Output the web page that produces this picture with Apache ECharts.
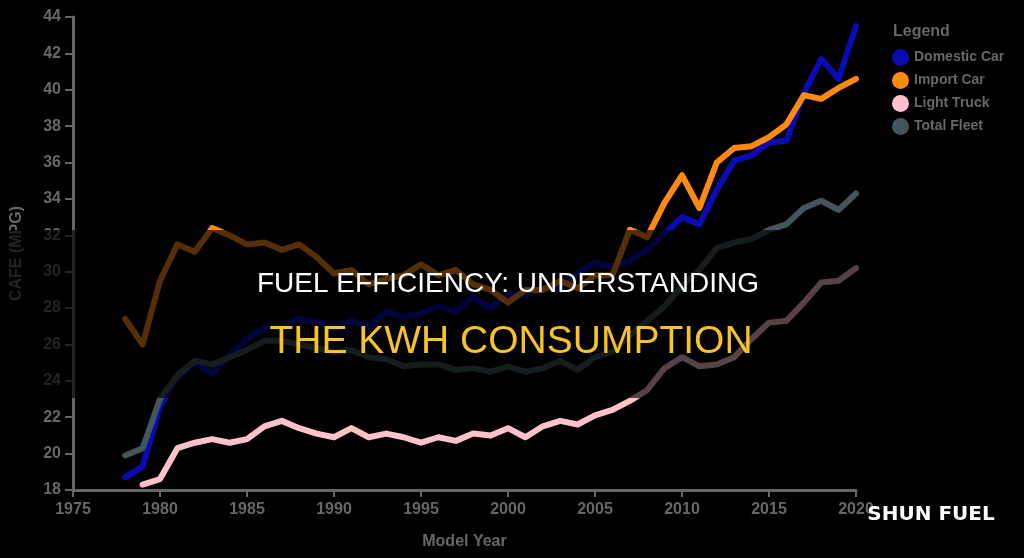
<!DOCTYPE html>
<html>
<head>
<meta charset="utf-8">
<script src="https://cdn.jsdelivr.net/npm/echarts@6/dist/echarts.min.js"></script>
<style>
  html, body { margin: 0; padding: 0; background: #000; }
  #main { width: 1024px; height: 558px; }
</style>
</head>
<body>
<div id="main"></div>
<script>
// model years shown on the chart
var years = [1978, 1979, 1980, 1981, 1982, 1983, 1984, 1985, 1986, 1987,
    1988, 1989, 1990, 1991, 1992, 1993, 1994, 1995, 1996, 1997,
    1998, 1999, 2000, 2001, 2002, 2003, 2004, 2005, 2006, 2007,
    2008, 2009, 2010, 2011, 2012, 2013, 2014, 2015, 2016, 2017,
    2018, 2019, 2020];

var domesticCar = [18.7, 19.3, 22.6, 24.2, 25.0, 24.4, 25.4, 26.3, 26.9, 27.0,
    27.4, 27.2, 26.9, 27.3, 27.0, 27.8, 27.5, 27.7, 28.1, 27.8,
    28.6, 28.0, 28.7, 28.7, 29.1, 29.1, 29.9, 30.5, 30.3, 30.6,
    31.2, 32.1, 33.0, 32.6, 34.5, 36.1, 36.4, 37.1, 37.2, 39.8,
    41.7, 40.6, 43.5];

var importCar = [27.4, 26.0, 29.5, 31.5, 31.1, 32.4, 32.0, 31.5, 31.6, 31.2,
    31.5, 30.8, 29.9, 30.1, 29.3, 29.6, 29.8, 30.4, 29.8, 30.1,
    29.3, 29.0, 28.3, 29.0, 29.0, 29.5, 29.1, 29.8, 29.8, 32.3,
    31.9, 33.8, 35.3, 33.5, 36.0, 36.8, 36.9, 37.4, 38.1, 39.7,
    39.5, 40.1, 40.6];

var lightTruck = [null, 18.3, 18.6, 20.3, 20.6, 20.8, 20.6, 20.8, 21.5, 21.8,
    21.4, 21.1, 20.9, 21.4, 20.9, 21.1, 20.9, 20.6, 20.9, 20.7,
    21.1, 21.0, 21.4, 20.9, 21.5, 21.8, 21.6, 22.1, 22.4, 22.9,
    23.5, 24.7, 25.3, 24.8, 24.9, 25.3, 26.3, 27.2, 27.3, 28.3,
    29.4, 29.5, 30.2];

var totalFleet = [19.9, 20.3, 23.0, 24.3, 25.1, 24.9, 25.3, 25.7, 26.2, 26.2,
    26.0, 25.8, 25.6, 25.7, 25.3, 25.2, 24.8, 24.9, 24.9, 24.6,
    24.7, 24.5, 24.8, 24.5, 24.7, 25.1, 24.6, 25.3, 25.6, 26.5,
    27.3, 28.1, 29.2, 30.1, 31.3, 31.6, 31.8, 32.3, 32.6, 33.5,
    33.9, 33.4, 34.3];

var seriesNames = ['Domestic Car', 'Import Car', 'Light Truck', 'Total Fleet'];
var seriesColors = ['#0b0bb4', '#ff8a12', '#ffc2cc', '#44565c'];

var axisGray = '#676767';

function pairs(values)
{
    var out = [];
    for (var i = 0; i < years.length; i++) {
        if (values[i] != null) out.push([years[i], values[i]]);
    }
    return out;
}

var allValues = [domesticCar, importCar, lightTruck, totalFleet];
var series = [];
for (var s = 0; s < seriesNames.length; s++) {
    series.push({
        name: seriesNames[s],
        type: 'line',
        data: pairs(allValues[s]),
        showSymbol: false,
        symbol: 'circle',
        lineStyle: {width: 6, color: seriesColors[s], cap: 'round', join: 'round'},
        itemStyle: {color: seriesColors[s]},
        z: 2 + s
    });
}

var option = {
    backgroundColor: '#000',
    animation: false,
    grid: {left: 73, right: 168, top: 17, bottom: 68},
    legend: {
        data: seriesNames,
        orient: 'vertical',
        left: 887,
        top: 44,
        icon: 'circle',
        itemWidth: 17,
        itemHeight: 17,
        itemGap: 6,
        textStyle: {color: axisGray, fontSize: 14, fontWeight: 'bold', fontFamily: 'Liberation Sans'}
    },
    xAxis: {
        type: 'value',
        min: 1975,
        max: 2020,
        interval: 5,
        name: 'Model Year',
        nameLocation: 'middle',
        nameGap: 44,
        nameTextStyle: {color: axisGray, fontSize: 16, fontWeight: 'bold', fontFamily: 'Liberation Sans'},
        splitLine: {show: false},
        axisLine: {lineStyle: {color: axisGray, width: 3}},
        axisTick: {length: 7, lineStyle: {color: axisGray, width: 2}},
        axisLabel: {
            color: axisGray, fontSize: 16, fontWeight: 'bold', fontFamily: 'Liberation Sans', margin: 12,
            formatter: function (v) { return String(v); }
        }
    },
    yAxis: {
        type: 'value',
        min: 18,
        max: 44,
        interval: 2,
        name: 'CAFE (MPG)',
        nameLocation: 'middle',
        nameGap: 48,
        nameRotate: 90,
        nameTextStyle: {color: axisGray, fontSize: 16, fontWeight: 'bold', fontFamily: 'Liberation Sans'},
        splitLine: {show: false},
        axisLine: {show: true, lineStyle: {color: axisGray, width: 3}},
        axisTick: {show: true, length: 8, lineStyle: {color: axisGray, width: 2}},
        axisLabel: {color: axisGray, fontSize: 16, fontWeight: 'bold', fontFamily: 'Liberation Sans', margin: 12}
    },
    graphic: [
        {
            type: 'text', left: 893, top: 24, z: 10,
            style: {text: 'Legend', fill: axisGray, font: 'bold 16px "Liberation Sans"'}
        },
        {
            type: 'rect', left: 0, top: 230, z: 50,
            shape: {width: 1024, height: 168},
            style: {fill: 'rgba(0,0,0,0.66)'}
        },
        {
            type: 'text', x: 508, y: 284, z: 60,
            style: {
                text: 'FUEL EFFICIENCY: UNDERSTANDING', fill: '#ffffff',
                font: '28px "Liberation Sans"', align: 'center', verticalAlign: 'middle'
            }
        },
        {
            type: 'text', x: 511, y: 342, z: 60,
            style: {
                text: 'THE KWH CONSUMPTION', fill: '#f7c32b',
                font: '39px "Liberation Sans"', align: 'center', verticalAlign: 'middle'
            }
        },
        {
            type: 'text', x: 931, y: 515, z: 60,
            style: {
                text: 'SHUN FUEL', fill: '#ffffff',
                font: 'bold 20px "DejaVu Sans"', align: 'center', verticalAlign: 'middle'
            }
        }
    ],
    series: series
};

var myChart = echarts.init(document.getElementById('main'));
myChart.setOption(option);
</script>
</body>
</html>
